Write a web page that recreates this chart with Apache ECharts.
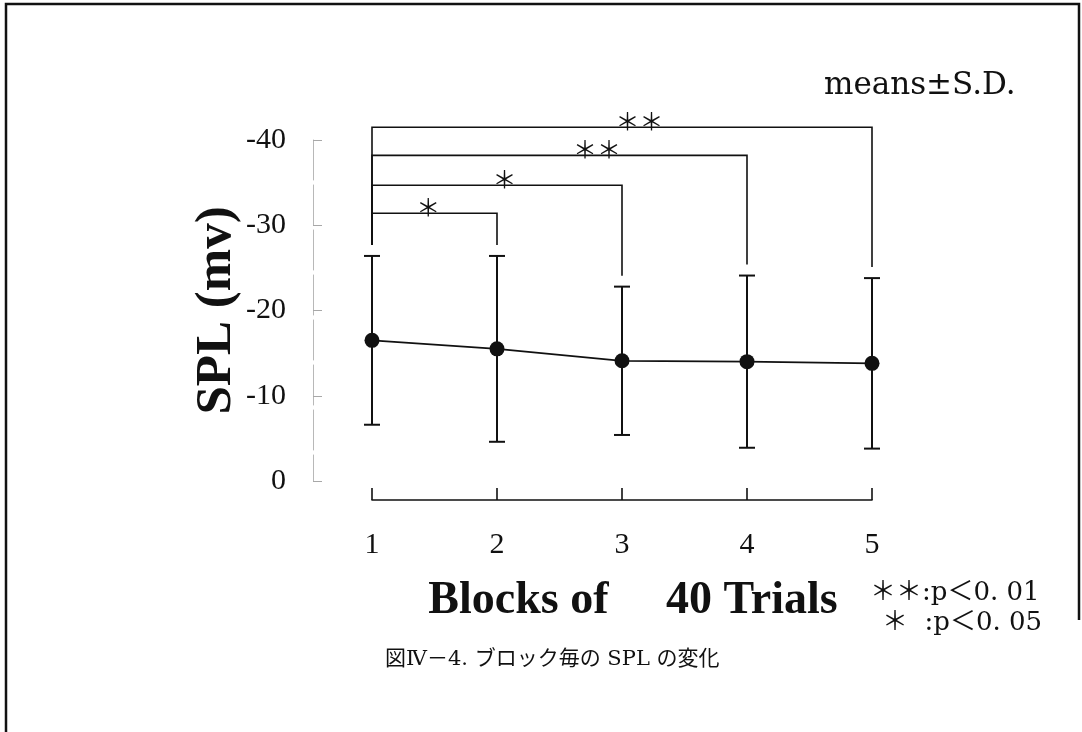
<!DOCTYPE html>
<html>
<head>
<meta charset="utf-8">
<script src="https://cdn.jsdelivr.net/npm/echarts@6/dist/echarts.min.js"></script>
<style>
  html, body { margin: 0; padding: 0; background: #fff; }
  #chart { width: 1082px; height: 732px; }
</style>
</head>
<body>
<div id="chart"></div>
<script>
// Blocks of 40 trials and SPL (mV) per block, means and standard deviations
const blocks = [1, 2, 3, 4, 5];
const meanSPL = [-16.5, -15.5, -14.1, -14.0, -13.8];
const sdSPL = [9.9, 10.9, 8.7, 10.1, 10.0];

// Pairwise comparisons against block 1 and their significance marks
const comparisonFrom = [1, 1, 1, 1];
const comparisonTo = [5, 4, 3, 2];
const comparisonMark = ['＊＊', '＊＊', '＊', '＊'];

// Where each comparison bracket sits (data units) and where its mark is placed along x
const bracketLevel = [-41.5, -38.2, -34.7, -31.4];
const bracketMarkX = [3.14, 2.8, 2.06, 1.45];

const SERIF = '"Liberation Serif", "Times New Roman", serif';
const JP = '"DejaVu Serif", "Noto Sans CJK JP", serif';
const INK = '#111';

const chart = echarts.init(document.getElementById('chart'));

const meanPoints = blocks.map((b, i) => [b, meanSPL[i]]);
const sdBars = blocks.map((b, i) => [b, meanSPL[i] - sdSPL[i], meanSPL[i] + sdSPL[i]]);
const brackets = comparisonFrom.map((f, i) => [f, comparisonTo[i], bracketLevel[i], bracketMarkX[i], i]);

function barTopPx(api, block) {
  const i = blocks.indexOf(block);
  return api.coord([block, meanSPL[i] - sdSPL[i]])[1];
}

chart.setOption({
  animation: false,
  backgroundColor: '#fff',
  grid: { left: 372, right: 210, top: 140, bottom: 251 },
  xAxis: {
    type: 'value',
    min: 1, max: 5, interval: 1,
    position: 'bottom',
    offset: 19,
    name: 'Blocks of     40 Trials',
    nameLocation: 'middle',
    nameGap: 78,
    nameTextStyle: { fontFamily: SERIF, fontWeight: 'bold', fontSize: 46, color: INK, padding: [0, 0, 0, 22] },
    axisLine: { onZero: false, lineStyle: { color: INK, width: 1.6 } },
    axisTick: { inside: true, length: 12, lineStyle: { color: INK, width: 1.6 } },
    axisLabel: { margin: 30, fontFamily: SERIF, fontSize: 30, color: INK },
    splitLine: { show: false }
  },
  yAxis: {
    type: 'value',
    min: -40, max: 0, interval: 10,
    inverse: true,
    offset: 59,
    name: 'SPL (mv)',
    nameLocation: 'middle',
    nameRotate: 90,
    nameGap: 70,
    nameTextStyle: { fontFamily: SERIF, fontWeight: 'bold', fontSize: 51, color: INK },
    axisLine: { show: true, onZero: false, lineStyle: { color: '#b8b8b8', width: 1, type: [40, 5] } },
    axisTick: { show: true, inside: true, length: 9, lineStyle: { color: '#a8a8a8', width: 1 } },
    axisLabel: { margin: 27, fontFamily: SERIF, fontSize: 30, color: INK },
    splitLine: { show: false }
  },
  graphic: [
    {
      type: 'polyline',
      shape: { points: [[6, 732], [6, 4], [1079, 4], [1079, 620]] },
      style: { stroke: INK, lineWidth: 2.5, fill: null }
    },
    {
      type: 'text', left: 824, top: 70,
      style: { text: 'means±S.D.', font: '31px "DejaVu Serif", serif', fill: INK }
    },
    {
      type: 'text', left: 870, top: 580,
      style: { text: '＊＊:p＜0. 01', font: '26px ' + JP, fill: INK }
    },
    {
      type: 'text', left: 882, top: 610,
      style: { text: '＊  :p＜0. 05', font: '26px ' + JP, fill: INK }
    },
    {
      type: 'text', left: 385, top: 649,
      style: { text: '図Ⅳ－4. ブロック毎の SPL の変化', font: '21px ' + JP, fill: INK }
    }
  ],
  series: [
    {
      type: 'custom',
      clip: false,
      data: sdBars,
      z: 3,
      renderItem: function (params, api) {
        const x = api.value(0);
        const top = api.coord([x, api.value(1)]);
        const bot = api.coord([x, api.value(2)]);
        const half = 8;
        const st = { stroke: INK, lineWidth: 2 };
        return {
          type: 'group',
          children: [
            { type: 'line', shape: { x1: top[0], y1: top[1], x2: bot[0], y2: bot[1] }, style: st },
            { type: 'line', shape: { x1: top[0] - half, y1: top[1], x2: top[0] + half, y2: top[1] }, style: st },
            { type: 'line', shape: { x1: bot[0] - half, y1: bot[1], x2: bot[0] + half, y2: bot[1] }, style: st }
          ]
        };
      }
    },
    {
      type: 'line',
      data: meanPoints,
      symbol: 'circle',
      symbolSize: 15,
      z: 4,
      itemStyle: { color: INK },
      lineStyle: { color: INK, width: 1.8 }
    },
    {
      type: 'custom',
      clip: false,
      data: brackets,
      z: 2,
      renderItem: function (params, api) {
        const from = api.value(0), to = api.value(1), level = api.value(2), mx = api.value(3);
        const idx = api.value(4);
        const pL = api.coord([from, level]);
        const pR = api.coord([to, level]);
        const gap = 11;
        const leftEnd = barTopPx(api, from) - gap;
        const rightEnd = barTopPx(api, to) - gap;
        const markPx = api.coord([mx, level]);
        return {
          type: 'group',
          children: [
            {
              type: 'polyline',
              shape: { points: [[pL[0], leftEnd], [pL[0], pL[1]], [pR[0], pR[1]], [pR[0], rightEnd]] },
              style: { stroke: INK, lineWidth: 1.6, fill: null }
            },
            {
              type: 'text',
              style: {
                text: comparisonMark[idx],
                x: markPx[0], y: markPx[1] - 6,
                align: 'center', verticalAlign: 'middle',
                font: '24px "Noto Sans CJK JP", sans-serif',
                fill: INK
              }
            }
          ]
        };
      }
    }
  ]
});
</script>
</body>
</html>
